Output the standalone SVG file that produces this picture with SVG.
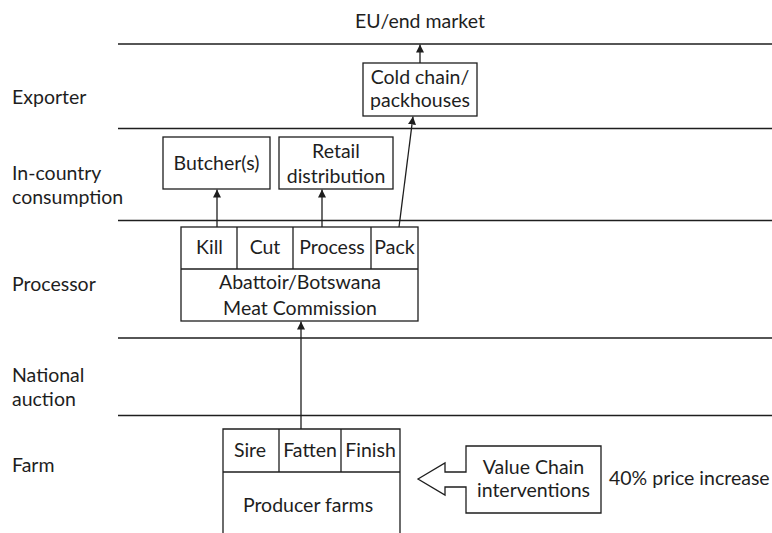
<svg xmlns="http://www.w3.org/2000/svg" width="772" height="533" viewBox="0 0 772 533">
  <style>
    text { font-family: Lato, "Liberation Sans", sans-serif; font-size: 19.5px; fill: #1e1e1e; }
    .mid { text-anchor: middle; }
    .tier { stroke: #1e1e1e; stroke-width: 1.3; fill: none; }
    .box { stroke: #1e1e1e; stroke-width: 1.3; fill: #fff; }
    .link { stroke: #1e1e1e; stroke-width: 1.3; fill: none; marker-end: url(#head); }
  </style>
  <defs>
    <marker id="head" viewBox="0 0 10 10" refX="10" refY="5" markerWidth="8" markerHeight="8" markerUnits="userSpaceOnUse" orient="auto">
      <path d="M0,0 L10,5 L0,10 Z" fill="#1e1e1e"/>
    </marker>
  </defs>
  <rect width="772" height="533" fill="#fff"/>

  <!-- tier separators -->
  <g id="tiers">
    <line class="tier" x1="118" y1="44" x2="772" y2="44"/>
    <line class="tier" x1="118" y1="128.5" x2="772" y2="128.5"/>
    <line class="tier" x1="118" y1="220.5" x2="772" y2="220.5"/>
    <line class="tier" x1="118" y1="338" x2="772" y2="338"/>
    <line class="tier" x1="118" y1="415.5" x2="772" y2="415.5"/>
  </g>

  <!-- tier labels -->
  <g id="tier-labels">
    <text x="12" y="104">Exporter</text>
    <text x="12" y="180">In-country</text>
    <text x="12" y="204">consumption</text>
    <text x="12" y="291">Processor</text>
    <text x="12" y="382">National</text>
    <text x="12" y="406">auction</text>
    <text x="12" y="472">Farm</text>
  </g>

  <g id="end-market">
    <text class="mid" x="420" y="28">EU/end market</text>
  </g>

  <g id="cold-chain">
    <rect class="box" x="363" y="63" width="114" height="53"/>
    <text class="mid" x="420" y="84">Cold chain/</text>
    <text class="mid" x="420" y="107">packhouses</text>
  </g>

  <g id="butchers">
    <rect class="box" x="163" y="137" width="107" height="52"/>
    <text class="mid" x="216.5" y="170">Butcher(s)</text>
  </g>

  <g id="retail">
    <rect class="box" x="279" y="137" width="114" height="52"/>
    <text class="mid" x="336" y="158">Retail</text>
    <text class="mid" x="336" y="183">distribution</text>
  </g>

  <g id="processor">
    <rect class="box" x="181" y="227" width="237" height="94"/>
    <line class="tier" x1="181" y1="269" x2="418" y2="269"/>
    <line class="tier" x1="237" y1="227" x2="237" y2="269"/>
    <line class="tier" x1="293" y1="227" x2="293" y2="269"/>
    <line class="tier" x1="371" y1="227" x2="371" y2="269"/>
    <text class="mid" x="209.5" y="254">Kill</text>
    <text class="mid" x="265" y="254">Cut</text>
    <text class="mid" x="332" y="254">Process</text>
    <text class="mid" x="394.5" y="254">Pack</text>
    <text class="mid" x="300" y="289">Abattoir/Botswana</text>
    <text class="mid" x="300" y="315">Meat Commission</text>
  </g>

  <g id="farm">
    <path class="box" d="M223,540 V429 H400 V540"/>
    <line class="tier" x1="223" y1="472" x2="400" y2="472"/>
    <line class="tier" x1="279" y1="429" x2="279" y2="472"/>
    <line class="tier" x1="341" y1="429" x2="341" y2="472"/>
    <text class="mid" x="250" y="457">Sire</text>
    <text class="mid" x="310" y="457">Fatten</text>
    <text class="mid" x="370.5" y="457">Finish</text>
    <text class="mid" x="308" y="512">Producer farms</text>
  </g>

  <g id="interventions">
    <path class="box" d="M418,479 L445,463 V472 H466 V446 H601 V513 H466 V487 H445 V495 Z"/>
    <text class="mid" x="533.5" y="474">Value Chain</text>
    <text class="mid" x="533.5" y="497">interventions</text>
    <text x="609" y="485">40% price increase</text>
  </g>

  <!-- flows between stages -->
  <g id="connectors">
    <line class="link" x1="420" y1="63" x2="420" y2="44.5"/>
    <line class="link" x1="399" y1="227" x2="413" y2="116.5"/>
    <line class="link" x1="217" y1="227" x2="217" y2="189.5"/>
    <line class="link" x1="322" y1="227" x2="322" y2="189.5"/>
    <line class="link" x1="301" y1="429" x2="301" y2="321.5"/>
  </g>
</svg>
